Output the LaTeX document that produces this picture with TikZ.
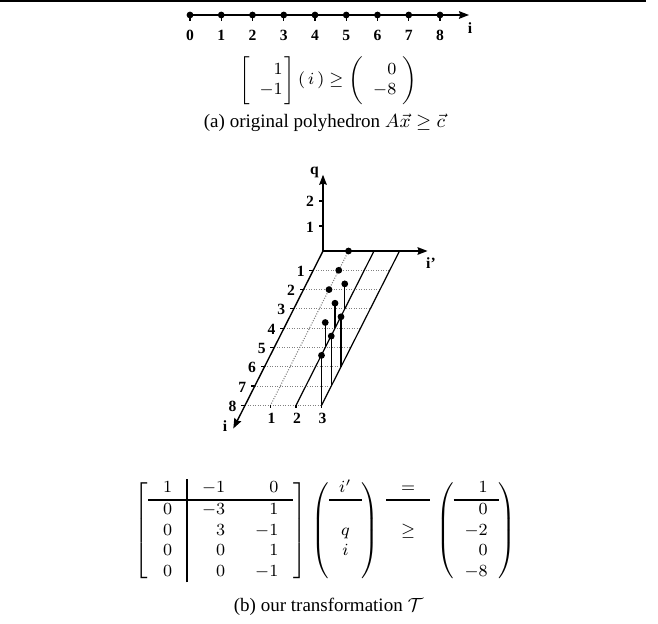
\RequirePackage{fix-cm}
\documentclass[tikz,border=0pt]{standalone}
\usepackage[no-math]{fontspec}
\setmainfont{Liberation Serif}
\usetikzlibrary{arrows.meta,calc}
\setlength{\arrayrulewidth}{0.8pt}
\tikzset{
  axisline/.style={line width=0.7pt,-{Stealth[length=5pt,width=3.8pt,inset=0.6pt]}},
  planeline/.style={line width=0.6pt},
  gridline/.style={gray,line width=0.55pt,dash pattern=on 0.5pt off 0.75pt},
  dotpt/.style={circle,fill=black,inner sep=0pt,minimum size=3.4pt},
  lbl/.style={font=\fontsize{7.8}{9}\selectfont\bfseries,inner sep=0pt},
  capt/.style={font=\fontsize{9.5}{11}\selectfont,inner sep=0pt},
  eqn/.style={font=\fontsize{8.5}{10.2}\selectfont,inner sep=0pt},
  tickline/.style={line width=0.6pt}
}
\begin{document}
\begin{tikzpicture}[x=0.5pt,y=-0.5pt]
\useasboundingbox (0,0) rectangle (658,624);
% top rule
\coordinate (rl) at (0,1.2);
\coordinate (rr) at (646,1.2);
\draw[line width=0.85pt] (rl) -- (rr);
% number line
\coordinate (ntip) at (469,15);
\foreach \k in {0,...,8}{
  \coordinate (n\k) at ({190+31.25*\k},15);
  \coordinate (nt\k) at ({190+31.25*\k},21.5);
  \draw[tickline] (n\k) -- (nt\k);
  \node[lbl] (nl\k) at ({190+31.25*\k},35) {\k};
}
\draw[axisline] (n0) -- (ntip);
\foreach \k in {0,...,8}{ \node[dotpt] (nd\k) at (n\k) {}; }
\node[lbl] (nli) at (470,28) {i};
% equation (a)
\node[eqn] (eqa) at (328.5,80.5) {$\left[\begin{array}{@{\hspace{4.5pt}}r@{\hspace{1pt}}}1\\-1\end{array}\right](\,i\,)\geq\left(\begin{array}{@{\hspace{5pt}}r@{\hspace{3pt}}}0\\-8\end{array}\right)$};
\node[capt] (capa) at (324.5,123) {(a) original polyhedron $A\vec{x}\geq\vec{c}$};
% 3D plot
\begin{scope}[shift={(323,251)},x={(12.75pt,0pt)},y={(0pt,12.5pt)},z={(-4.875pt,-9.65pt)}]
  \coordinate (O) at (0,0,0);
  \coordinate (qtip) at (0,3.05,0);
  \coordinate (iptip) at (4.1,0,0);
  \coordinate (itip) at (0,0,9.2);
  \coordinate (q1) at (0,1,0);
  \coordinate (q2) at (0,2,0);
  \foreach \a in {0,...,3}{\foreach \c in {0,...,8}{\coordinate (P-\a-\c) at (\a,0,\c);}}
  \foreach \c in {1,...,8}{\draw[gridline] (P-0-\c) -- (P-3-\c);}
  \draw[gridline] (P-1-0) -- (P-1-8);
  \draw[planeline] (P-2-0) -- (P-2-8);
  \draw[planeline] (P-3-0) -- (P-3-8);
  \draw[axisline] (O) -- (qtip);
  \draw[axisline] (O) -- (iptip);
  \draw[axisline] (O) -- (itip);
  \foreach \c in {1,...,8}{
    \draw[tickline] (P-0-\c) -- ++(-2pt,0pt);
    \node[lbl] (il\c) at ($(P-0-\c)+(-6.3pt,-0.5pt)$) {\c};
  }
  \foreach \a in {1,2,3}{
    \draw[tickline] (P-\a-8) -- ++(0pt,-1.5pt);
    \node[lbl] (bl\a) at ($(P-\a-8)+(0.5pt,-6.5pt)$) {\a};
  }
  \draw[tickline] (q1) -- ++(-2pt,0pt);
  \draw[tickline] (q2) -- ++(-2pt,0pt);
  \node[lbl] (ql1) at ($(q1)+(-6.5pt,-0.9pt)$) {1};
  \node[lbl] (ql2) at ($(q2)+(-6.5pt,-0.4pt)$) {2};
  \foreach \a/\b/\c in {1/0/0,1/0/1,1/0/2,2/1/3,2/1/4,2/1/5,3/2/6,3/2/7,3/2/8}{
    \node[dotpt] (d\c) at (\a,\b,\c) {};
    \ifnum\b>0 \draw[planeline] (d\c.center) -- (P-\a-\c); \fi
  }
\end{scope}
\node[lbl] (lq) at (314.5,172) {q};
\node[lbl] (lip) at (431,263.5) {i'};
\node[lbl] (li) at (225,426) {i};
% equation (b)
\node[eqn] (eqb) at (325.5,530.5) {\setlength{\arraycolsep}{7.5pt}$\left[\begin{array}{c|rr}1&-1&0\\\hline 0&-3&1\\0&3&-1\\0&0&1\\0&0&-1\end{array}\right]\hspace{1pt}\left(\setlength{\arraycolsep}{5pt}\begin{array}{c}i'\\\hline\\q\\i\\\\\end{array}\right)\hspace{2pt}\begin{array}{c}=\\\hline\\\geq\\\\\\\end{array}\hspace{1.5pt}\left(\setlength{\arraycolsep}{5.5pt}\begin{array}{r}1\\\hline 0\\-2\\0\\-8\end{array}\right)$};
\node[capt] (capb) at (328.5,606.7) {(b) our transformation $\mathcal{T}$};
\end{tikzpicture}
\end{document}
